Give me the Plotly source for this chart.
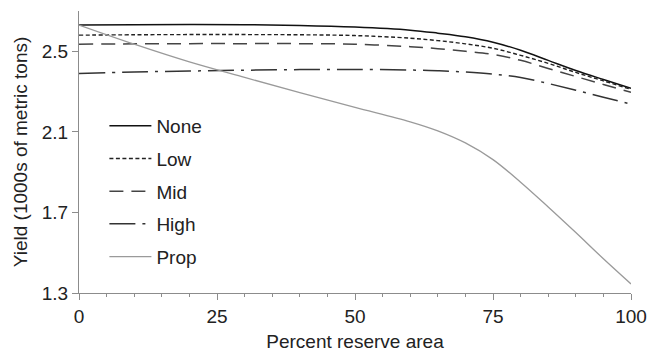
import plotly.graph_objects as go

x = [0, 10, 20, 30, 40, 50, 60, 65, 70, 75, 80, 85, 90, 95, 100]
none = [2.630, 2.632, 2.633, 2.632, 2.628, 2.620, 2.605, 2.590, 2.572, 2.545, 2.505, 2.455, 2.405, 2.360, 2.316]
low = [2.580, 2.582, 2.583, 2.583, 2.582, 2.578, 2.565, 2.553, 2.537, 2.515, 2.480, 2.440, 2.395, 2.353, 2.311]
mid = [2.535, 2.537, 2.538, 2.538, 2.538, 2.535, 2.523, 2.513, 2.500, 2.485, 2.455, 2.415, 2.375, 2.335, 2.297]
high = [2.390, 2.397, 2.402, 2.406, 2.409, 2.410, 2.407, 2.403, 2.397, 2.387, 2.370, 2.340, 2.307, 2.272, 2.238]
prop = [2.630, 2.535, 2.447, 2.370, 2.295, 2.222, 2.150, 2.105, 2.045, 1.962, 1.850, 1.727, 1.600, 1.470, 1.345]

names = ["None", "Low", "Mid", "High", "Prop"]
series = [none, low, mid, high, prop]
colors = ["#111111", "#222222", "#444444", "#333333", "#9a9a9a"]
dashes = ["solid", "4px,2.5px", "14px,8px", "26px,7px,3px,7px", "solid"]
widths = [1.5, 1.4, 1.5, 1.5, 1.3]

fig = go.Figure()
for i, (n, s) in enumerate(zip(names, series)):
    fig.add_trace(go.Scatter(
        x=x, y=s, name=n, mode="lines", legendgroup=n,
        line=dict(color=colors[i], dash=dashes[i], width=widths[i], shape="spline", smoothing=1.0),
    ))

font = dict(family="Liberation Sans, Arial, sans-serif", size=19, color="#222222")
axcol = "#8c8c8c"
fig.update_layout(
    template="none",
    width=650, height=354,
    margin=dict(l=79, r=19, t=11, b=61),
    paper_bgcolor="white", plot_bgcolor="white",
    font=font,
    showlegend=True,
    legend=dict(x=0.046, y=0.66, xanchor="left", yanchor="top", bgcolor="rgba(0,0,0,0)",
                font=font, tracegroupgap=5, borderwidth=0, itemwidth=42),
    xaxis=dict(range=[0, 100], tickmode="linear", tick0=0, dtick=25, ticks="outside", ticklen=6,
               tickcolor=axcol, tickwidth=1.2, showline=True, linecolor=axcol, linewidth=1.3,
               showgrid=False, zeroline=False, automargin=False,
               minor=dict(dtick=5, ticks="outside", ticklen=3, tickcolor=axcol, tickwidth=1.2, showgrid=False),
               title=dict(text="Percent reserve area", font=font, standoff=8)),
    yaxis=dict(range=[1.3, 2.7], tickmode="linear", tick0=1.3, dtick=0.4, ticks="outside", ticklen=6,
               tickcolor=axcol, tickwidth=1.2, showline=True, linecolor=axcol, linewidth=1.3,
               showgrid=False, zeroline=False, tickformat=".1f", automargin=False,
               title=dict(text="Yield (1000s of metric tons)", font=font, standoff=8)),
)
fig.write_html("out.html")
